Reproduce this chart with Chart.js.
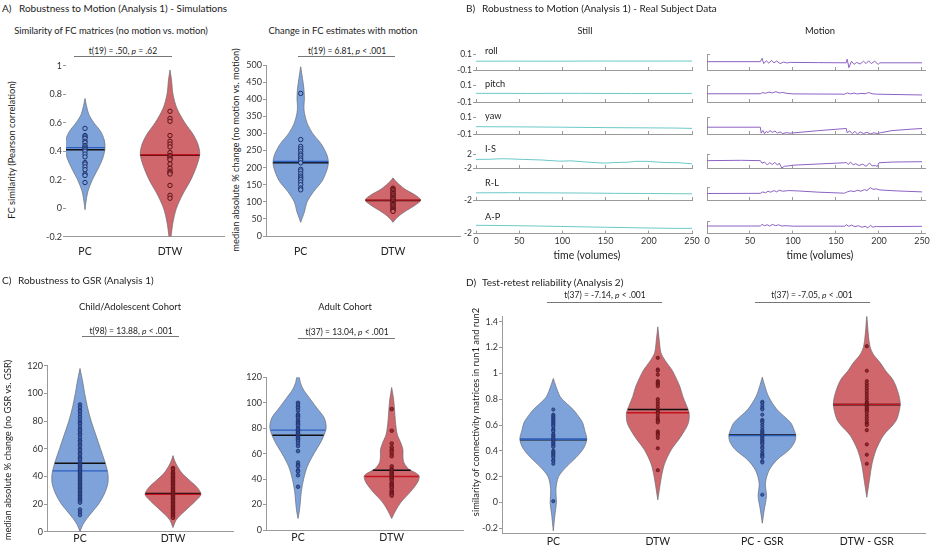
<!DOCTYPE html>
<html>
<head>
<meta charset="utf-8">
<script src="https://cdn.jsdelivr.net/npm/chart.js@4.4.1/dist/chart.umd.min.js"></script>
<style>
  body { margin: 0; width: 930px; height: 548px; position: relative; overflow: hidden; background: #fff;
         font-family: Lato, "Open Sans", sans-serif; color: #222; }
  canvas.layer { position: absolute; left: 0; top: 0; }
  .t { position: absolute; white-space: nowrap; line-height: 1; }
  .bar { position: absolute; height: 0; border-top: 1px solid #777; }
</style>
</head>
<body>
<script>
const W = 930, H = 548;

// ---------- A) Simulationen ----------
const simCats = ['PC', 'DTW'];
const simCorrTicks = [-0.2, 0, 0.2, 0.4, 0.6, 0.8, 1];
const simCorrPC = [0.56, 0.51, 0.50, 0.49, 0.47, 0.46, 0.44, 0.43, 0.42, 0.41, 0.40, 0.38, 0.36, 0.32, 0.31, 0.29, 0.27, 0.24, 0.23, 0.18];
const simCorrDTW = [0.68, 0.63, 0.61, 0.51, 0.47, 0.45, 0.43, 0.39, 0.37, 0.36, 0.35, 0.34, 0.31, 0.28, 0.26, 0.25, 0.24, 0.16, 0.09, 0.07];
const simCorrMedian = [0.425, 0.375];
const simCorrMean = [0.41, 0.372];
// [wert, halbe breite]
const simCorrShapePC = [[-0.01, 0], [0.05, 0.013], [0.12, 0.035], [0.2, 0.087], [0.28, 0.157], [0.35, 0.209], [0.42, 0.235], [0.48, 0.226], [0.54, 0.183], [0.6, 0.104], [0.66, 0.044], [0.72, 0.017], [0.77, 0]];
const simCorrShapeDTW = [[-0.2, 0.012], [-0.1, 0.035], [0, 0.076], [0.1, 0.152], [0.2, 0.246], [0.3, 0.316], [0.38, 0.35], [0.45, 0.328], [0.52, 0.27], [0.6, 0.175], [0.7, 0.082], [0.8, 0.035], [0.9, 0.018], [0.97, 0]];

const simChangeTicks = [0, 50, 100, 150, 200, 250, 300, 350, 400, 450, 500];
const simChangePC = [417, 282, 262, 255, 248, 240, 235, 228, 222, 214, 195, 190, 182, 175, 170, 165, 158, 150, 140, 135];
const simChangeDTW = [140, 136, 132, 128, 124, 120, 117, 113, 110, 106, 102, 99, 95, 92, 88, 85, 81, 78, 75, 72];
const simChangeMedian = [218, 105];
const simChangeMean = [214, 104];
const simChangeShapePC = [[40, 0], [55, 0.02], [70, 0.04], [100, 0.07], [130, 0.14], [160, 0.23], [190, 0.28], [215, 0.3], [240, 0.28], [270, 0.22], [300, 0.13], [330, 0.07], [360, 0.04], [380, 0.035], [400, 0.04], [430, 0.035], [460, 0.02], [495, 0]];
const simChangeShapeDTW = [[40, 0], [50, 0.03], [60, 0.07], [75, 0.15], [90, 0.24], [105, 0.3], [120, 0.24], [135, 0.14], [150, 0.07], [160, 0.03], [170, 0]];

// ---------- B) echte Probanden ----------
const timeTicks = [0, 50, 100, 150, 200, 250];
const rowNames = ['roll', 'pitch', 'yaw', 'I-S', 'R-L', 'A-P'];
const rotTicks = [-0.1, 0.1];
const transTicks = [-2, 2];

const stillRoll = [[0, 0.01], [40, 0.011], [90, 0.01], [140, 0.012], [190, 0.011], [250, 0.012]];
const stillPitch = [[0, 0.005], [60, 0.004], [120, 0.005], [180, 0.003], [250, 0.004]];
const stillYaw = [[0, -0.014], [50, -0.016], [100, -0.02], [150, -0.025], [200, -0.028], [230, -0.03], [250, -0.034]];
const stillIS = [[0, 0.45], [15, 0.5], [30, 0.65], [39, 0.6], [55, 0.45], [75, 0.3], [97, -0.05], [110, 0.05], [125, -0.25], [148, -0.6], [160, -0.45], [175, -0.35], [185, -0.1], [198, -0.1], [210, -0.3], [221, -0.45], [235, -0.5], [250, -0.8]];
const stillRL = [[0, 0.2], [40, 0.25], [80, 0.2], [120, 0.15], [160, 0.05], [200, 0.0], [250, -0.1]];
const stillAP = [[0, 0.63], [30, 0.55], [70, 0.4], [110, 0.2], [150, 0.0], [190, -0.2], [230, -0.35], [250, -0.35]];

const motionRoll = [[0, 0.004], [62, 0.004], [64, 0.045], [66, -0.02], [69, 0.015], [72, -0.015], [75, 0.02], [78, -0.01], [81, 0.012], [85, -0.02], [89, 0.0], [93, -0.012], [97, -0.005], [130, -0.008], [162, -0.01], [163, 0.035], [165, -0.07], [168, 0.01], [171, -0.03], [174, -0.005], [178, -0.025], [182, 0.01], [185, -0.02], [188, 0.015], [191, -0.02], [195, 0.01], [199, -0.03], [201, -0.01], [250, -0.01]];
const motionPitch = [[0, 0], [62, 0], [65, 0.015], [68, 0.005], [72, 0.02], [76, 0.01], [80, 0.025], [84, 0.01], [88, 0.015], [93, 0.005], [100, -0.002], [160, -0.005], [163, 0.01], [167, -0.002], [171, 0.008], [175, -0.003], [179, 0.005], [184, 0.0], [188, 0.015], [192, 0.0], [197, -0.005], [250, -0.015]];
const motionYaw = [[0, -0.02], [62, -0.02], [63, -0.09], [65, -0.06], [67, -0.095], [69, -0.07], [71, -0.085], [73, -0.06], [76, -0.08], [79, -0.065], [82, -0.09], [85, -0.075], [88, -0.095], [92, -0.085], [97, -0.09], [130, -0.06], [162, -0.035], [163, -0.085], [166, -0.065], [169, -0.095], [172, -0.07], [175, -0.1], [178, -0.075], [182, -0.095], [186, -0.08], [190, -0.1], [194, -0.085], [198, -0.095], [202, -0.085], [215, -0.06], [235, -0.045], [250, -0.035]];
const motionIS = [[0, 0.1], [40, 0.2], [62, 0.1], [64, -0.6], [67, -0.3], [70, -1.1], [73, -0.5], [76, -1.0], [79, -0.4], [82, -1.2], [84, -0.6], [87, -2.0], [90, -1.5], [95, -1.4], [100, -1.2], [130, -0.85], [160, -0.5], [162, -0.4], [164, -1.0], [167, -0.3], [170, -1.1], [173, -0.8], [177, -1.3], [181, -0.9], [185, -1.5], [189, -0.6], [192, -1.4], [196, -1.3], [198, -1.6], [200, -0.5], [215, -0.3], [250, -0.2]];
const motionRL = [[0, 0.0], [62, 0.05], [65, 0.5], [68, 0.2], [71, 0.7], [74, 0.4], [78, 0.9], [81, 0.5], [84, 1.0], [88, 0.7], [95, 0.9], [105, 0.8], [130, 0.4], [160, 0.1], [163, 0.5], [167, 0.8], [171, 0.6], [175, 1.0], [179, 0.7], [183, 1.2], [186, 0.9], [190, 1.8], [193, 1.3], [197, 1.4], [201, 1.1], [220, 0.8], [250, 0.5]];
const motionAP = [[0, 0.4], [62, 0.4], [64, 0.9], [67, 0.5], [70, 0.8], [73, 0.4], [76, 0.9], [80, 0.5], [83, 0.8], [87, 0.4], [92, 0.5], [100, 0.35], [160, 0.35], [162, 0.8], [165, 0.3], [168, 0.7], [172, 0.2], [176, 0.5], [180, 0.0], [184, 0.3], [187, -0.2], [190, 0.6], [193, 0.0], [197, 0.3], [200, 0.2], [250, 0.3]];

// ---------- C) GSR ----------
const gsrTicks = [0, 20, 40, 60, 80, 100, 120];
const childPC = [92, 90, 88, 87, 85, 83, 81, 79, 78, 76, 74, 73, 71, 70, 68, 66, 65, 63, 62, 60, 59, 57, 56, 54, 53, 52, 50, 49, 48, 47, 46, 45, 44, 43, 42, 41, 40, 39, 38, 37, 36, 35, 34, 33, 32, 31, 30, 29, 28, 27, 26, 25, 24, 23, 22, 21, 16, 14, 12];
const childDTW = [46, 45, 43, 42, 41, 40, 39, 38, 37, 36, 35, 34, 33, 32, 31, 30, 29, 28, 27, 26, 25, 24, 23, 22, 21, 20, 19, 18, 17, 16, 15, 14, 13, 12, 11, 10];
const childMedian = [44, 27];
const childMean = [49.5, 27.5];
const childShapePC = [[0, 0], [5, 0.03], [10, 0.08], [15, 0.14], [20, 0.2], [27, 0.26], [35, 0.3], [42, 0.3], [50, 0.27], [60, 0.22], [70, 0.17], [80, 0.12], [90, 0.08], [100, 0.05], [108, 0.03], [118, 0]];
const childShapeDTW = [[3, 0], [8, 0.03], [12, 0.08], [17, 0.16], [22, 0.24], [27, 0.3], [32, 0.26], [37, 0.18], [42, 0.1], [47, 0.05], [51, 0.02], [55, 0]];

const adultPC = [100, 99, 97, 96, 94, 91, 90, 89, 88, 86, 85, 84, 83, 82, 80, 79, 78, 77, 76, 75, 74, 73, 72, 71, 70, 68, 66, 62, 53, 51, 50, 47, 46, 43, 34];
const adultDTW = [95, 78, 68, 65, 63, 62, 60, 58, 50, 48, 47, 46, 45, 44, 43, 42, 41, 40, 39, 37, 36, 35, 34, 33, 31, 30, 29, 28, 27];
const adultMedian = [78.5, 42];
const adultMean = [74.5, 47];
const adultShapePC = [[9, 0], [15, 0.015], [22, 0.025], [30, 0.035], [40, 0.06], [50, 0.1], [60, 0.17], [70, 0.25], [80, 0.3], [88, 0.28], [96, 0.2], [104, 0.12], [110, 0.06], [116, 0.025], [125, 0]];
const adultShapeDTW = [[9, 0], [15, 0.04], [22, 0.1], [30, 0.2], [38, 0.28], [43, 0.29], [48, 0.18], [53, 0.13], [58, 0.12], [63, 0.12], [68, 0.1], [75, 0.06], [85, 0.04], [95, 0.03], [103, 0.02], [112, 0]];

// ---------- D) Test-Retest ----------
const retestCats = ['PC', 'DTW', 'PC - GSR', 'DTW - GSR'];
const retestTicks = [-0.2, 0, 0.2, 0.4, 0.6, 0.8, 1, 1.2, 1.4];
const retestPC = [0.72, 0.68, 0.67, 0.66, 0.65, 0.64, 0.63, 0.62, 0.61, 0.60, 0.59, 0.57, 0.56, 0.55, 0.53, 0.52, 0.51, 0.50, 0.49, 0.48, 0.47, 0.46, 0.45, 0.44, 0.43, 0.40, 0.39, 0.38, 0.37, 0.36, 0.35, 0.33, 0.32, 0.30, 0.01];
const retestDTW = [1.12, 1.03, 1.02, 0.99, 0.94, 0.93, 0.92, 0.91, 0.90, 0.80, 0.78, 0.76, 0.74, 0.72, 0.71, 0.70, 0.69, 0.67, 0.65, 0.64, 0.63, 0.62, 0.55, 0.54, 0.53, 0.52, 0.50, 0.42, 0.25];
const retestPCGSR = [0.78, 0.77, 0.75, 0.73, 0.72, 0.68, 0.64, 0.63, 0.62, 0.60, 0.58, 0.56, 0.55, 0.54, 0.53, 0.52, 0.51, 0.50, 0.49, 0.48, 0.47, 0.46, 0.45, 0.43, 0.42, 0.40, 0.38, 0.37, 0.36, 0.35, 0.32, 0.31, 0.06];
const retestDTWGSR = [1.21, 1.02, 0.94, 0.92, 0.90, 0.88, 0.86, 0.84, 0.82, 0.80, 0.78, 0.77, 0.76, 0.75, 0.74, 0.73, 0.72, 0.71, 0.70, 0.68, 0.66, 0.64, 0.62, 0.61, 0.60, 0.56, 0.45, 0.37, 0.30];
const retestMedian = [0.49, 0.695, 0.518, 0.76];
const retestMean = [0.487, 0.72, 0.522, 0.758];
const retestShapePC = [[-0.22, 0], [-0.1, 0.015], [0.0, 0.03], [0.1, 0.025], [0.2, 0.05], [0.28, 0.13], [0.35, 0.22], [0.42, 0.29], [0.49, 0.32], [0.56, 0.3], [0.62, 0.28], [0.68, 0.23], [0.72, 0.19], [0.78, 0.11], [0.82, 0.065], [0.9, 0.025], [0.96, 0]];
const retestShapeDTW = [[0.02, 0], [0.1, 0.015], [0.2, 0.035], [0.3, 0.065], [0.41, 0.13], [0.51, 0.22], [0.61, 0.29], [0.69, 0.3], [0.76, 0.27], [0.82, 0.24], [0.9, 0.21], [1.02, 0.14], [1.1, 0.07], [1.16, 0.03], [1.25, 0.015], [1.36, 0]];
const retestShapePCGSR = [[-0.16, 0], [-0.05, 0.02], [0.05, 0.04], [0.15, 0.03], [0.25, 0.065], [0.33, 0.14], [0.41, 0.26], [0.47, 0.31], [0.52, 0.32], [0.57, 0.3], [0.62, 0.27], [0.72, 0.14], [0.82, 0.06], [0.9, 0.025], [0.97, 0]];
const retestShapeDTWGSR = [[0.04, 0], [0.12, 0.015], [0.2, 0.03], [0.3, 0.05], [0.41, 0.09], [0.52, 0.16], [0.6, 0.25], [0.65, 0.29], [0.76, 0.32], [0.85, 0.3], [0.95, 0.25], [1.02, 0.18], [1.08, 0.13], [1.15, 0.06], [1.21, 0.03], [1.3, 0.015], [1.45, 0]];

// ---------- Farben & Layout ----------
const FONT = 'Lato, "Open Sans", sans-serif';
const axisCol = '#9a9a9a';
const fills = ['#7da3da', '#cf676c'];
const medCols = ['#2d5fc0', '#c4141f'];
const dotEdge = ['#1d2f6b', '#5e1015'];
const dotFill = ['#3f5ea8', '#9a2a30'];
const stillCol = '#6cc8c8';
const motionCol = '#8d62c2';

Chart.defaults.font.family = FONT;
Chart.defaults.color = '#333';

function mkCanvas() {
  const c = document.createElement('canvas');
  c.width = W; c.height = H; c.className = 'layer';
  document.body.appendChild(c);
  return c;
}

function txt(html, x, y, size, mid, rot) {
  const d = document.createElement('div');
  d.className = 't';
  d.innerHTML = html;
  d.style.left = x + 'px';
  d.style.top = y + 'px';
  d.style.fontSize = size + 'px';
  d.style.transform = 'translate(' + (mid ? '-50%' : '0') + ',-50%)' + (rot ? ' rotate(-90deg)' : '');
  document.body.appendChild(d);
}

function bar(x1, x2, y) {
  const d = document.createElement('div');
  d.className = 'bar';
  d.style.left = x1 + 'px'; d.style.top = y + 'px'; d.style.width = (x2 - x1) + 'px';
  document.body.appendChild(d);
}

// halbe Breite der Violine an Stelle v (fuer die Median-/Mittelwertlinien)
function widthAt(shape, v) {
  for (let i = 0; i < shape.length - 1; i++) {
    const [v0, w0] = shape[i], [v1, w1] = shape[i + 1];
    if (v >= v0 && v <= v1) return w0 + (w1 - w0) * (v - v0) / (v1 - v0);
  }
  return 0;
}

const fmt = v => String(+(+v).toFixed(2));

function violinPanel(lay, cats, groups, shapes, medians, means, yTicks) {
  const datasets = [];
  shapes.forEach((s, i) => {
    const c = i + 1;
    const left = s.map(([v, w]) => ({x: c - w, y: v}));
    const right = s.slice().reverse().map(([v, w]) => ({x: c + w, y: v}));
    datasets.push({data: left.concat(right), showLine: true, fill: 'shape', tension: 0.3,
      backgroundColor: fills[i % 2], borderColor: '#6b6b72', borderWidth: 0.7, pointRadius: 0, order: 4});
  });
  means.forEach((v, i) => {
    const w = widthAt(shapes[i], v);
    datasets.push({data: [{x: i + 1 - w, y: v}, {x: i + 1 + w, y: v}], showLine: true,
      borderColor: '#111', borderWidth: 1.6, pointRadius: 0, order: 3});
  });
  medians.forEach((v, i) => {
    const w = widthAt(shapes[i], v);
    datasets.push({data: [{x: i + 1 - w, y: v}, {x: i + 1 + w, y: v}], showLine: true,
      borderColor: medCols[i % 2], borderWidth: 1.4, pointRadius: 0, order: 2});
  });
  groups.forEach((g, i) => {
    datasets.push({data: g.map(v => ({x: i + 1, y: v})), showLine: false, pointRadius: lay.dotR,
      pointBackgroundColor: lay.hollow ? fills[i % 2] : dotFill[i % 2], pointBorderColor: dotEdge[i % 2],
      pointBorderWidth: lay.hollow ? 1 : 0.8, order: 1});
  });
  const xmin = 1 + (lay.l - lay.c1) / lay.sp;
  const xmax = 1 + (lay.r - lay.c1) / lay.sp;
  new Chart(mkCanvas(), {
    type: 'scatter',
    data: {datasets},
    options: {
      responsive: false, animation: false, events: [],
      layout: {padding: {left: lay.l - lay.yw, top: lay.t, right: W - lay.r, bottom: H - lay.b - 20}},
      plugins: {legend: {display: false}, tooltip: {enabled: false}},
      scales: {
        x: {type: 'linear', min: xmin, max: xmax,
          afterBuildTicks: s => { s.ticks = cats.map((_, i) => ({value: i + 1})); },
          afterFit: s => { s.height = 20; s.paddingLeft = s.paddingRight = 0; },
          ticks: {callback: v => cats[Math.round(v) - 1], autoSkip: false, maxRotation: 0,
            padding: lay.catPad, font: {size: 10.5}, color: '#222'},
          grid: {drawOnChartArea: false, drawTicks: false},
          border: {color: axisCol, width: 1}},
        y: {type: 'linear', min: lay.ymin, max: lay.ymax,
          afterBuildTicks: s => { s.ticks = yTicks.map(v => ({value: v})); },
          afterFit: s => { s.width = lay.yw; s.paddingTop = s.paddingBottom = 0; },
          ticks: {callback: fmt, padding: lay.tickPad, font: {size: 9}, color: '#333'},
          grid: {drawOnChartArea: false, tickLength: 3, color: axisCol},
          border: {display: lay.yBorder, color: axisCol, width: 1}}
      }
    }
  });
}

function traceChart(lay, pts, yTicks, color, still, showX) {
  new Chart(mkCanvas(), {
    type: 'scatter',
    data: {datasets: [{data: pts.map(([x, y]) => ({x, y})), showLine: true, borderColor: color,
      borderWidth: 1, pointRadius: 0, clip: false}]},
    options: {
      responsive: false, animation: false, events: [],
      layout: {padding: {left: lay.l - 30, top: lay.t, right: W - lay.r, bottom: H - lay.b - 14}},
      plugins: {legend: {display: false}, tooltip: {enabled: false}},
      scales: {
        x: {type: 'linear', min: 0, max: lay.xmax,
          afterBuildTicks: s => { s.ticks = timeTicks.map(v => ({value: v})); },
          afterFit: s => { s.height = 14; s.paddingLeft = s.paddingRight = 0; },
          ticks: {display: showX, padding: 5.5, font: {size: 9}, color: '#333', maxRotation: 0},
          grid: {drawOnChartArea: false, tickLength: -3, color: axisCol},
          border: {color: axisCol, width: 1}},
        y: {type: 'linear', min: yTicks[0], max: yTicks[1],
          afterBuildTicks: s => { s.ticks = yTicks.map(v => ({value: v})); },
          afterFit: s => { s.width = 30; s.paddingTop = s.paddingBottom = 0; },
          ticks: {display: still, callback: fmt, padding: 1, font: {size: 8.5}, color: '#333'},
          grid: {drawOnChartArea: false, tickLength: still ? 3 : -3, color: axisCol},
          border: {display: !still, color: axisCol, width: 1}}
      }
    }
  });
}

const TS = 10;    // Titel
const SS = 9.4;   // Untertitel
const AS = 9.4;   // Achsentitel
const PS = 8.5;   // Statistik

// ---------- Panel A ----------
txt('A)', 2, 8, TS); txt('Robustness to Motion (Analysis 1) - Simulations', 19, 8, TS);
txt('Similarity of FC matrices (no motion vs. motion)', 111, 31, SS, true);
txt('Change in FC estimates with motion', 343, 31, SS, true);
txt('t(19) = .50, <i>p</i> = .62', 123, 51, PS, true); bar(74, 172, 56);
txt('t(19) = 6.81, <i>p</i> &lt; .001', 347, 51, PS, true); bar(298, 395, 56);
txt('FC similarity (Pearson correlation)', 12, 150, AS, true, true);
txt('median absolute % change (no motion vs. motion)', 236, 150, AS, true, true);

violinPanel({l: 66, r: 224, t: 65.7, b: 236.7, c1: 85, sp: 85, yw: 30, ymin: -0.2, ymax: 1,
  catPad: 9, tickPad: 1, dotR: 2.2, yBorder: false, hollow: true},
  simCats, [simCorrPC, simCorrDTW], [simCorrShapePC, simCorrShapeDTW], simCorrMedian, simCorrMean, simCorrTicks);
violinPanel({l: 266, r: 460, t: 65, b: 236, c1: 300.7, sp: 92.3, yw: 30, ymin: 0, ymax: 500,
  catPad: 9, tickPad: 1, dotR: 2.2, yBorder: true, hollow: true},
  simCats, [simChangePC, simChangeDTW], [simChangeShapePC, simChangeShapeDTW], simChangeMedian, simChangeMean, simChangeTicks);

// ---------- Panel B ----------
txt('B)', 466, 8, TS); txt('Robustness to Motion (Analysis 1) - Real Subject Data', 482, 8, TS);
txt('Still', 585, 31, SS, true);
txt('Motion', 820, 31, SS, true);
txt('time (volumes)', 587, 255, 10.5, true);
txt('time (volumes)', 820, 255, 10.5, true);

const rowBox = [[54, 70], [85.5, 102], [117, 134], [154, 168], [187, 200], [221, 233.5]];
const rowLabelY = [51, 84, 116, 149, 183, 217];
const stillRows = [stillRoll, stillPitch, stillYaw, stillIS, stillRL, stillAP];
const motionRows = [motionRoll, motionPitch, motionYaw, motionIS, motionRL, motionAP];
rowNames.forEach((name, i) => {
  const ticks = i < 3 ? rotTicks : transTicks;
  const last = i === rowNames.length - 1;
  traceChart({l: 476, r: 692, t: rowBox[i][0], b: rowBox[i][1], xmax: 250}, stillRows[i], ticks, stillCol, true, last);
  traceChart({l: 707, r: 925, t: rowBox[i][0], b: rowBox[i][1], xmax: 253.5}, motionRows[i], ticks, motionCol, false, last);
  txt(name, 485, rowLabelY[i], 9.2);
});

// ---------- Panel C ----------
txt('C)', 2, 280, TS); txt('Robustness to GSR (Analysis 1)', 18, 280, TS);
txt('Child/Adolescent Cohort', 130, 307, SS, true);
txt('Adult Cohort', 345, 307, SS, true);
txt('t(98) = 13.88, <i>p</i> &lt; .001', 131, 331, PS, true); bar(82, 179, 336);
txt('t(37) = 13.04, <i>p</i> &lt; .001', 347, 332, PS, true); bar(298, 395, 338);
txt('median absolute % change (no GSR vs. GSR)', 8, 450, AS, true, true);

violinPanel({l: 47, r: 233, t: 365.7, b: 531.7, c1: 80, sp: 93, yw: 30, ymin: 0, ymax: 120,
  catPad: 1, tickPad: 1, dotR: 1.8, yBorder: true},
  simCats, [childPC, childDTW], [childShapePC, childShapeDTW], childMedian, childMean, gsrTicks);
violinPanel({l: 266, r: 463, t: 377.3, b: 530, c1: 298, sp: 93.7, yw: 30, ymin: 0, ymax: 120,
  catPad: 1, tickPad: 1, dotR: 1.8, yBorder: true},
  simCats, [adultPC, adultDTW], [adultShapePC, adultShapeDTW], adultMedian, adultMean, gsrTicks);

// ---------- Panel D ----------
txt('D)', 466, 282, TS); txt('Test-retest reliability (Analysis 2)', 482, 282, TS);
txt('t(37) = -7.14, <i>p</i> &lt; .001', 605, 295, PS, true); bar(547, 662, 302);
txt('t(37) = -7.05, <i>p</i> &lt; .001', 812, 295, PS, true); bar(755, 870, 302);
txt('similarity of connectivity matrices in run1 and run2', 476, 412, AS, true, true);

violinPanel({l: 502, r: 925, t: 316.5, b: 533.5, c1: 553.3, sp: 104.5, yw: 30, ymin: -0.24, ymax: 1.44,
  catPad: 2, tickPad: 1, dotR: 1.6, yBorder: true},
  retestCats, [retestPC, retestDTW, retestPCGSR, retestDTWGSR],
  [retestShapePC, retestShapeDTW, retestShapePCGSR, retestShapeDTWGSR], retestMedian, retestMean, retestTicks);
</script>
</body>
</html>
